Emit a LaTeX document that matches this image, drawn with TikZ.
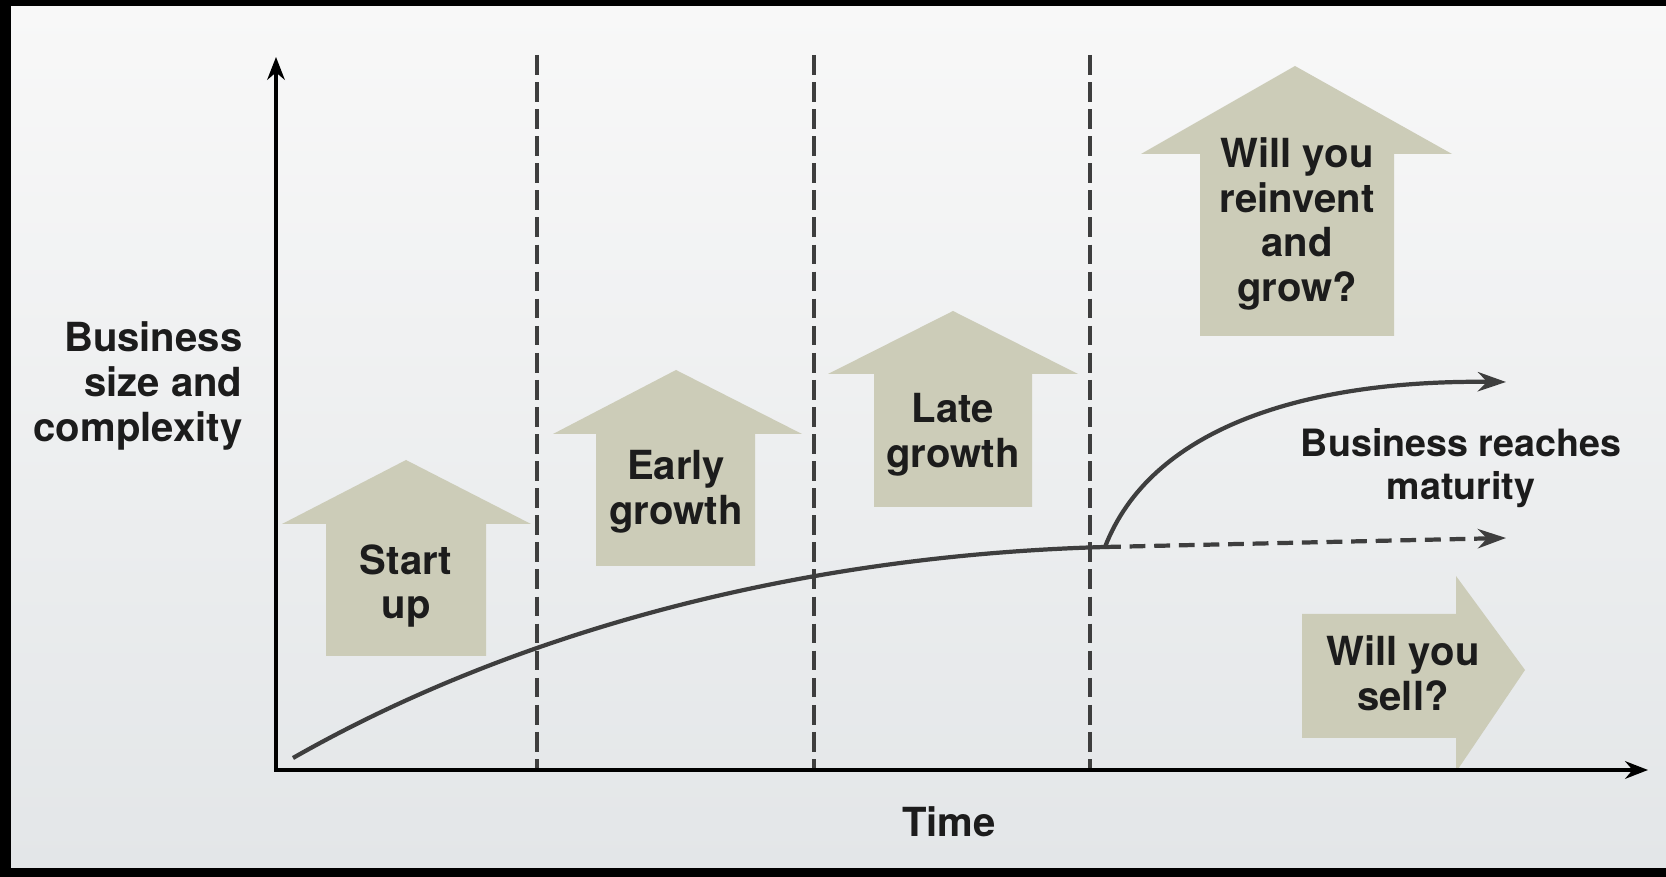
\documentclass[tikz,border=0pt]{standalone}
\usepackage{fontspec}
\setmainfont{TeX Gyre Heros}
\usetikzlibrary{positioning,arrows.meta}

\definecolor{bgtop}{RGB}{248,248,248}
\definecolor{bgbot}{RGB}{227,230,232}
\definecolor{stagefill}{RGB}{204,204,184}
\definecolor{inkdark}{RGB}{28,28,28}
\definecolor{curvegray}{RGB}{62,62,62}

\tikzset{
  stage/.style={fill=stagefill},
  stagetext/.style={align=center,inner sep=0pt,text=inkdark,font=\fontsize{11.4}{12.7}\selectfont\bfseries},
  axis/.style={line width=1pt,black,{Stealth[length=6.5pt,width=5pt]}-{Stealth[length=6.5pt,width=5pt]}},
  phase/.style={line width=1.05pt,curvegray,dash pattern=on 5.6pt off 2.1pt},
  growth/.style={line width=1.2pt,curvegray},
  tip/.style={-{Stealth[length=8pt,width=5.5pt]}},
}

\begin{document}
\begin{tikzpicture}[x=0.01cm,y=-0.01cm]
%---------------------Frame and background------------------%
\fill[black] (0,0) rectangle (1666,877);
\shade[top color=bgtop,bottom color=bgbot] (11,7) rectangle (1666,868);
\useasboundingbox (0,0) rectangle (1666,877);

%---------------------Phase lines------------------%
\foreach \px in {537,814,1090}
  \draw[phase] (\px,55) -- (\px,770);

%---------------------Stage arrows------------------%
%-------------------Start up-------------------------%
\fill[stage] (326,656) -- (326,524) -- (282,524) -- (406,460) -- (531,524) -- (486,524) -- (486,656) -- cycle;
\node[stagetext] (startup) at (406,586) {Start\\up};

%-------------------Early growth-------------------------%
\fill[stage] (596,566) -- (596,434) -- (553,434) -- (676,370) -- (802,434) -- (755,434) -- (755,566) -- cycle;
\node[stagetext] (early) at (676,492) {Early\\growth};

%-------------------Late growth-------------------------%
\fill[stage] (874,507) -- (874,374) -- (828,374) -- (953,311) -- (1078,374) -- (1032,374) -- (1032,507) -- cycle;
\node[stagetext] (late) at (953,435) {Late\\growth};

%-------------------Reinvent-------------------------%
\fill[stage] (1200,336) -- (1200,154) -- (1141,154) -- (1295,66) -- (1452,154) -- (1394,154) -- (1394,336) -- cycle;
\node[stagetext] (reinvent) at (1297,224) {Will you\\reinvent\\and\\grow?};

%-------------------Sell-------------------------%
\fill[stage] (1302,614) -- (1456,614) -- (1456,576) -- (1525,670) -- (1456,772) -- (1456,738) -- (1302,738) -- cycle;
\node[stagetext] (sell) at (1403,673) {Will you\\sell?};
%--------------------------------------------------------%

%---------------------Growth curve------------------%
\coordinate (start) at (293,758);
\coordinate (fork) at (1105,547);
\coordinate (upend) at (1506,382);
\coordinate (flatend) at (1506,538);
\draw[growth] (start) .. controls (500,640) and (780,556) .. (fork);
\draw[growth,tip] (fork) .. controls (1150,430) and (1300,380) .. (upend);
\draw[growth,tip,dash pattern=on 4.5pt off 2.5pt] (fork) -- (flatend);

%---------------------Labels------------------%
\node[stagetext,align=right,anchor=east] (ylabel) at (243,386) {Business\\size and\\complexity};
\node[stagetext] (time) at (949,822) {Time};
\node[stagetext,font=\fontsize{10.7}{12.4}\selectfont\bfseries] (mature) at (1461,468) {Business reaches\\maturity};

%---------------------Axes------------------%
\coordinate (origin) at (276,770);
\coordinate (ytop) at (276,57);
\coordinate (xend) at (1648,770);
\draw[axis] (ytop) -- (origin) -- (xend);
\end{tikzpicture}
\end{document}
